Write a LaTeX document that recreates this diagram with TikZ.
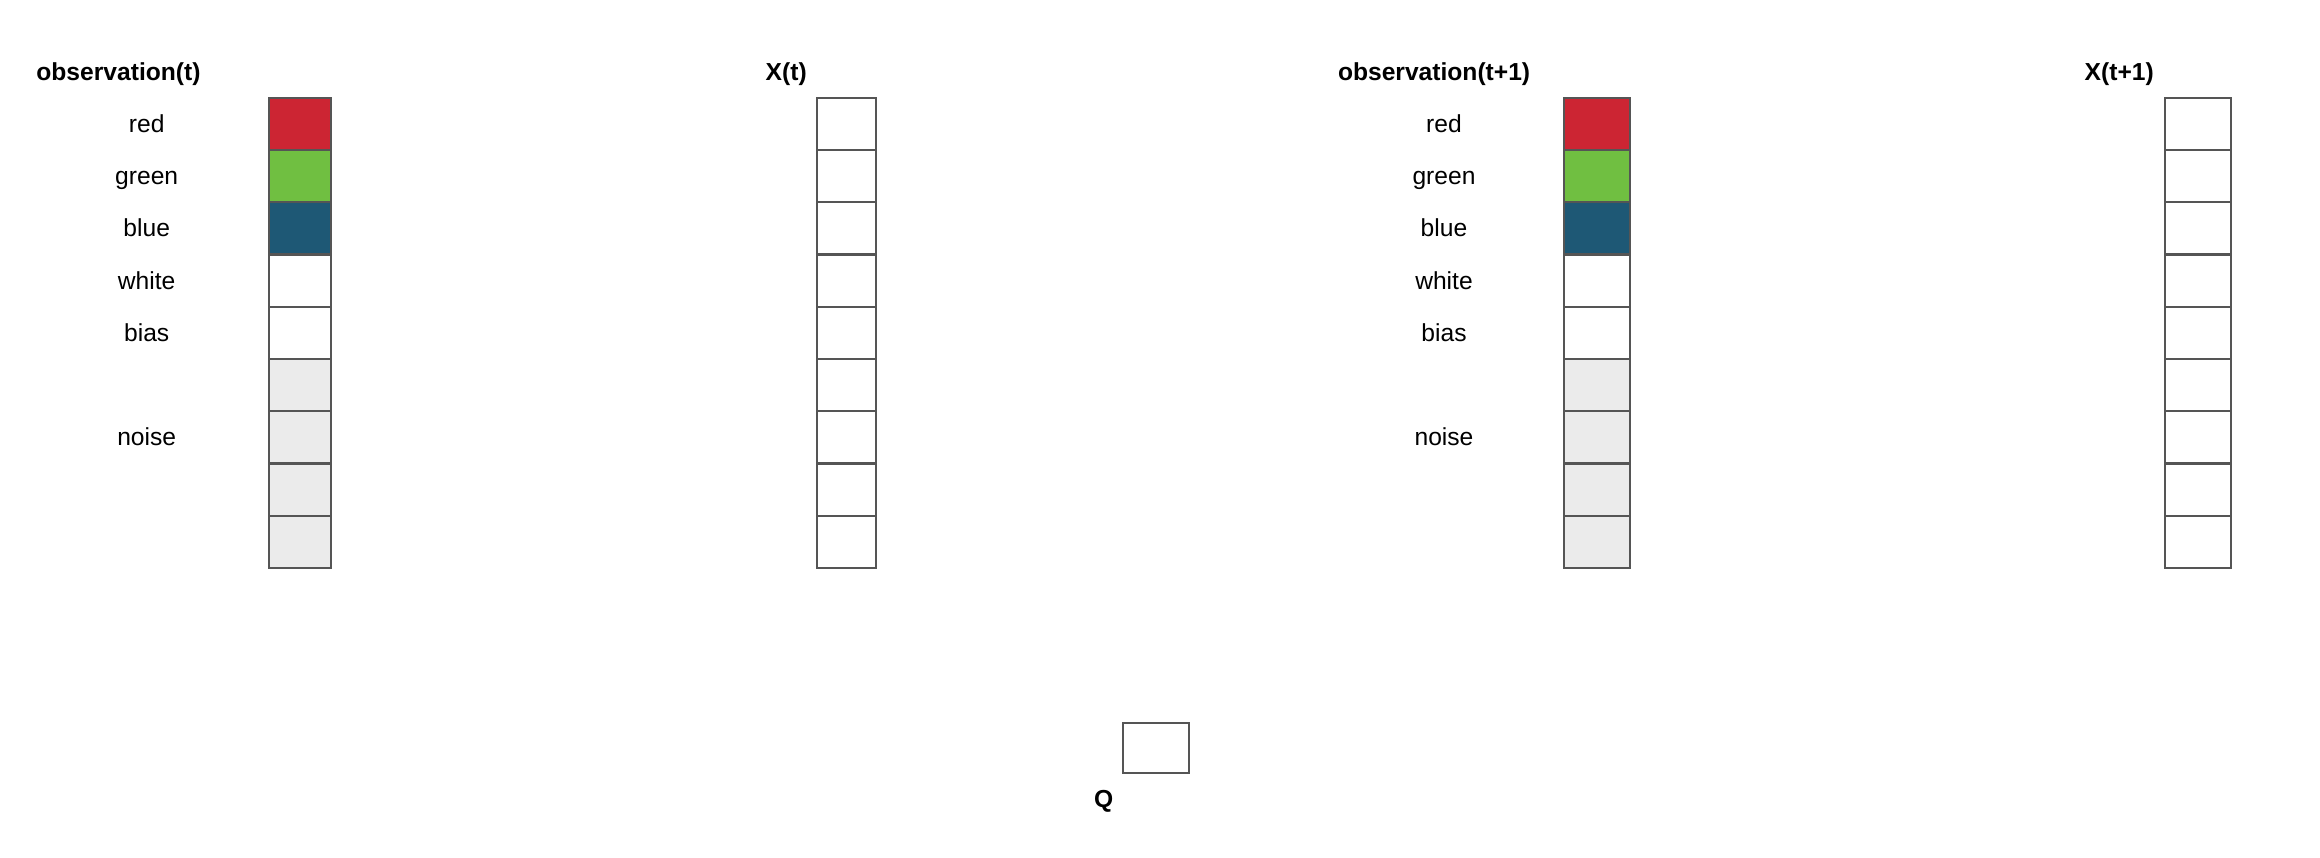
\documentclass[tikz,border=0pt]{standalone}
\usepackage{fontspec}
\setmainfont{Liberation Sans}
\usepackage{xcolor}
\definecolor{linegray}{RGB}{85,85,85}
\definecolor{obsred}{RGB}{204,37,51}
\definecolor{obsgreen}{RGB}{112,191,65}
\definecolor{obsblue}{RGB}{30,88,117}
\definecolor{noisegray}{RGB}{235,235,235}

\begin{document}
\begin{tikzpicture}[x=0.01cm,y=-0.01cm,font=\fontsize{7}{8.4}\selectfont,
  cell/.style={draw=linegray,line width=0.6pt,minimum height=0.5226cm,inner sep=0pt},
  title/.style={anchor=base west,inner sep=0pt,font=\fontsize{7}{8.4}\selectfont\bfseries},
  lbl/.style={anchor=base,inner sep=0pt}]
\useasboundingbox (0,0) rectangle (2320,858);
% observation(t)
\node[title] (obs t title) at (35.7,80.7) {observation(t)};
\foreach \i/\c in {1/obsred,2/obsgreen,3/obsblue,4/white,5/white,6/noisegray,7/noisegray,8/noisegray,9/noisegray}
  \node[cell,fill=\c,minimum width=0.62cm] (ot\i) at (300.3,{97.7+52.26*(\i-0.5)}) {};
\foreach \i/\t in {1/red,2/green,3/blue,4/white,5/bias,7/noise}
  \node[lbl] (ot\i lbl) at (146.7,{106.1+52.26*(\i-0.5)}) {\t};
% X(t)
\node[title] (xt title) at (765,80.7) {X(t)};
\foreach \i in {1,...,9}
  \node[cell,fill=white,minimum width=0.59cm] (xt\i) at (846.2,{97.7+52.26*(\i-0.5)}) {};
% observation(t+1)
\node[title] (obs tt title) at (1337.3,80.7) {observation(t+1)};
\foreach \i/\c in {1/obsred,2/obsgreen,3/obsblue,4/white,5/white,6/noisegray,7/noisegray,8/noisegray,9/noisegray}
  \node[cell,fill=\c,minimum width=0.66cm] (ott\i) at (1596.7,{97.7+52.26*(\i-0.5)}) {};
\foreach \i/\t in {1/red,2/green,3/blue,4/white,5/bias,7/noise}
  \node[lbl] (ott\i lbl) at (1444,{106.1+52.26*(\i-0.5)}) {\t};
% X(t+1)
\node[title] (xtt title) at (2084,80.7) {X(t+1)};
\foreach \i in {1,...,9}
  \node[cell,fill=white,minimum width=0.663cm] (xtt\i) at (2197.9,{97.7+52.26*(\i-0.5)}) {};
% Q
\node[cell,fill=white,minimum width=0.663cm,minimum height=0.50cm] (q) at (1155.9,747.7) {};
\node[title] (q title) at (1093.3,807.5) {Q};
\end{tikzpicture}
\end{document}
